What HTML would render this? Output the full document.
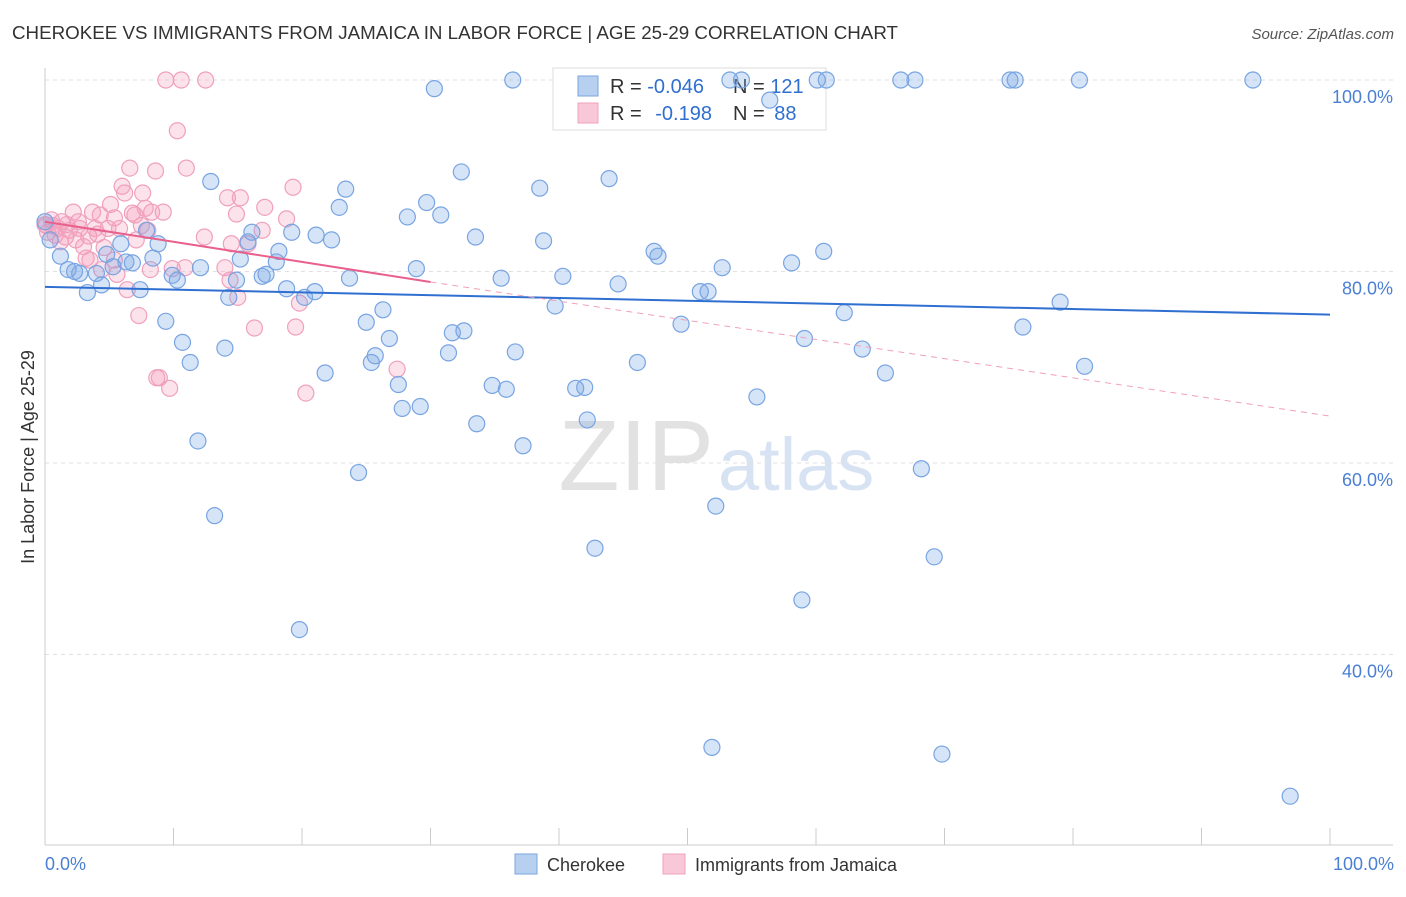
<!DOCTYPE html>
<html><head><meta charset="utf-8"><style>
body{margin:0;background:#fff;font-family:"Liberation Sans",sans-serif;}
svg text{font-family:"Liberation Sans",sans-serif;}
</style></head><body>
<svg id="chart" width="1406" height="892" viewBox="0 0 1406 892">
<text x="12" y="39" font-size="18" fill="#333" textLength="886" lengthAdjust="spacingAndGlyphs">CHEROKEE VS IMMIGRANTS FROM JAMAICA IN LABOR FORCE | AGE 25-29 CORRELATION CHART</text>
<text x="1394" y="39" font-size="15" fill="#555" font-style="italic" text-anchor="end">Source: ZipAtlas.com</text>
<text x="714" y="490" font-size="100" fill="#e2e2e2" font-family="Liberation Serif" text-anchor="end">ZIP</text>
<text x="718" y="490" font-size="74" fill="#d7e3f3">atlas</text>
<g id="grid"></g><g id="axes"></g>
<g>
<rect x="553" y="68" width="273" height="62" fill="#fff" stroke="#ddd"/>
<rect x="578" y="76" width="20" height="20" fill="#b8d0f0" stroke="#7aa6e0"/>
<rect x="578" y="103" width="20" height="20" fill="#f8c8d8" stroke="#f0a0bc"/>
<text x="610" y="93" font-size="20" fill="#333">R = <tspan fill="#2f6fd0">-0.046</tspan></text>
<text x="733" y="93" font-size="20" fill="#333">N = <tspan fill="#2f6fd0">121</tspan></text>
<text x="610" y="120" font-size="20" fill="#333">R = <tspan fill="#2f6fd0" dx="8">-0.198</tspan></text>
<text x="733" y="120" font-size="20" fill="#333">N = <tspan fill="#2f6fd0" dx="4">88</tspan></text>
</g>
<g id="marks"></g>
<text transform="translate(34,457) rotate(-90)" font-size="18" fill="#333" text-anchor="middle">In Labor Force | Age 25-29</text>
<text x="45" y="870" font-size="18" fill="#4a7fd4">0.0%</text>
<text x="1394" y="870" font-size="18" fill="#4a7fd4" text-anchor="end">100.0%</text>
<g>
<rect x="515" y="854" width="22" height="20" fill="#b8d0f0" stroke="#7aa6e0"/>
<text x="547" y="871" font-size="18" fill="#333">Cherokee</text>
<rect x="663" y="854" width="22" height="20" fill="#f8c8d8" stroke="#f0a0bc"/>
<text x="695" y="871" font-size="18" fill="#333">Immigrants from Jamaica</text>
</g>
</svg>
<script>
const yTicks=[100,80,60,40];
const yTickLabels=["100.0%","80.0%","60.0%","40.0%"];
const xTicks=[0,10,20,30,40,50,60,70,80,90,100];
const blueX=[0,0.4,1.2,1.8,2.3,2.7,3.3,4.0,4.4,4.8,5.3,5.9,6.3,6.8,7.4,7.9,8.4,8.8,9.4,9.9,10.3,10.7,11.3,11.9,12.1,12.9,13.2,14.0,14.3,14.9,15.2,15.8,16.1,16.9,17.2,18.0,18.2,18.8,19.2,19.8,20.2,21.0,21.1,21.8,22.3,22.9,23.4,23.7,24.4,25.0,25.4,25.7,26.3,26.8,27.5,27.8,28.2,28.9,29.2,29.7,30.3,30.8,31.4,31.7,32.4,32.6,33.5,33.6,34.8,35.5,35.9,36.4,36.6,37.2,38.5,38.8,39.7,40.3,41.3,42.0,42.2,42.8,43.9,44.6,46.1,47.4,47.7,49.5,51.0,51.6,51.9,52.2,52.7,53.3,54.2,55.4,56.4,58.1,58.9,59.1,60.1,60.6,60.8,62.2,63.6,65.4,66.6,67.7,68.2,69.2,69.8,75.1,75.5,76.1,79.0,80.5,80.9,94.0,96.9];
const blueY=[85.2,83.3,81.6,80.2,80.0,79.8,77.8,79.8,78.6,81.8,80.5,82.9,81.0,80.9,78.1,84.3,81.4,82.9,74.8,79.6,79.1,72.6,70.5,62.3,80.4,89.4,54.5,72.0,77.3,79.1,81.3,83.1,84.1,79.5,79.7,81.0,82.1,78.2,84.1,42.6,77.3,77.9,83.8,69.4,83.3,86.7,88.6,79.3,59.0,74.7,70.5,71.2,76.0,73.0,68.2,65.7,85.7,80.3,65.9,87.2,99.1,85.9,71.5,73.6,90.4,73.8,83.6,64.1,68.1,79.3,67.7,100,71.6,61.8,88.7,83.2,76.4,79.5,67.8,67.9,64.5,51.1,89.7,78.7,70.5,82.1,81.6,74.5,77.9,77.9,30.3,55.5,80.4,100,100,66.9,97.9,80.9,45.7,73.0,100,82.1,100,75.7,71.9,69.4,100,100,59.4,50.2,29.6,100,100,74.2,76.8,100,70.1,100,25.2];
const pinkX=[0,0.2,0.5,0.8,1.0,1.3,1.6,1.9,2.2,2.4,2.7,3.0,3.2,3.4,3.7,3.9,4.1,4.4,4.6,4.9,5.1,5.4,5.6,5.8,6.0,6.2,6.4,6.6,6.8,7.1,7.3,7.5,7.6,7.8,8.0,8.3,8.6,8.7,8.9,9.2,9.4,9.7,9.9,10.3,10.6,10.9,11.0,12.4,12.5,14.0,14.2,14.5,14.9,15.0,15.2,15.8,16.3,16.9,17.1,18.8,19.3,19.5,19.8,20.3,27.4,0.1,0.6,1.2,1.7,2.6,3.5,4.3,5.4,7.0,8.2,14.4];
const pinkY=[84.9,84.1,85.4,83.8,84.5,85.2,83.6,84.3,86.2,83.3,84.5,82.6,81.4,83.7,86.2,84.5,83.9,80.2,82.5,84.5,87.0,85.6,79.7,84.5,88.9,88.2,78.1,90.8,86.1,83.3,75.4,84.8,88.2,86.6,84.3,86.2,90.5,68.9,68.9,86.2,100,67.8,80.3,94.7,100,80.4,90.8,83.6,100,80.4,87.7,82.9,86.0,77.3,87.7,82.9,74.1,84.3,86.7,85.5,88.8,74.2,76.7,67.3,69.8,84.8,84.8,83.1,84.9,85.2,81.2,85.9,81.2,85.9,80.2,79.1];
const blueTrend=[[0,78.4],[100,75.5]];
const pinkTrendSolid=[[0,85.2],[30,78.9]];
const pinkTrendDash=[[30,78.9],[100,64.9]];

const NS="http://www.w3.org/2000/svg";
const X=v=>45+v*12.85;
const Y=v=>80+(100-v)*9.575;
function mk(tag,attrs,parent){const e=document.createElementNS(NS,tag);for(const k in attrs)e.setAttribute(k,attrs[k]);parent.appendChild(e);return e;}
const grid=document.getElementById('grid'),axes=document.getElementById('axes'),marks=document.getElementById('marks');
yTicks.forEach((t,i)=>{
  const l=mk('line',{x1:45,x2:1393,y1:Y(t),y2:Y(t),stroke:'#e0e0e0','stroke-dasharray':'4,4'},grid);
  
  
  const tx=mk('text',{x:1393,y:Y(t)+23,'font-size':18,fill:'#4a7fd4','text-anchor':'end'},axes);
  tx.textContent=yTickLabels[i];
  
  
});
const ya=mk('line',{x1:45,x2:45,y1:68,y2:845,stroke:'#ccc'},axes);


const xa=mk('line',{x1:45,x2:1393,y1:845,y2:845,stroke:'#ccc'},axes);


xTicks.forEach(t=>{
  const l=mk('line',{x1:X(t),x2:X(t),y1:828,y2:845,stroke:'#ccc'},axes);
  
  
});
pinkX.forEach((x,i)=>{
  const c=mk('circle',{cx:X(x),cy:Y(pinkY[i]),r:8,fill:'rgba(244,160,190,0.3)',stroke:'#f0a0bc','stroke-width':1.2},marks);
  
  
});
blueX.forEach((x,i)=>{
  const c=mk('circle',{cx:X(x),cy:Y(blueY[i]),r:8,fill:'rgba(120,165,230,0.3)',stroke:'#78a4e2','stroke-width':1.2},marks);
  
  
});
const bt=mk('line',{x1:X(blueTrend[0][0]),y1:Y(blueTrend[0][1]),x2:X(blueTrend[1][0]),y2:Y(blueTrend[1][1]),stroke:'#2f6fd0','stroke-width':2},marks);


const ps=mk('line',{x1:X(pinkTrendSolid[0][0]),y1:Y(pinkTrendSolid[0][1]),x2:X(pinkTrendSolid[1][0]),y2:Y(pinkTrendSolid[1][1]),stroke:'#e8608c','stroke-width':2},marks);


const pd=mk('line',{x1:X(pinkTrendDash[0][0]),y1:Y(pinkTrendDash[0][1]),x2:X(pinkTrendDash[1][0]),y2:Y(pinkTrendDash[1][1]),stroke:'#f0a0bc','stroke-width':1,'stroke-dasharray':'6,5'},marks);


</script>
</body></html>
